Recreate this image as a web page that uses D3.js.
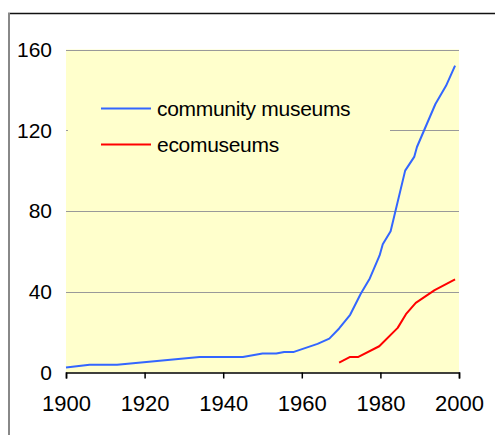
<!DOCTYPE html>
<html>
<head>
<meta charset="utf-8">
<script src="https://cdn.jsdelivr.net/npm/d3@7.9.0/dist/d3.min.js"></script>
<style>
  body { margin: 0; background: #fff; }
  svg text { font-family: "Liberation Sans", Arial, sans-serif; fill: #000; }
</style>
</head>
<body>
<svg id="chart" width="495" height="435"></svg>
<script>
// data: [year, count]
const communityMuseums = [
  [1900, 2.5], [1906, 3.8], [1913, 3.8], [1934, 7.7], [1945, 7.7],
  [1950, 9.4], [1953.5, 9.4], [1955.5, 10.2], [1958, 10.2], [1964, 14.2],
  [1967, 16.8], [1969.5, 21.8], [1972.3, 28.6], [1975, 39], [1977.3, 46.6],
  [1979.8, 58], [1980.6, 63.5], [1982.6, 70], [1986.3, 100], [1988.6, 106.8],
  [1989.3, 111.7], [1994, 133], [1996.7, 142], [1999, 152]
];
const ecomuseums = [
  [1969.5, 4.9], [1972.3, 7.7], [1974.4, 7.7], [1979.7, 13], [1984.4, 22.1],
  [1986.5, 28.9], [1989, 34.5], [1993.8, 40.8], [1999, 46.1]
];
const xTicks = [1900, 1920, 1940, 1960, 1980, 2000];
const yTicks = [0, 40, 80, 120, 160];
const seriesNames = ["community museums", "ecomuseums"];
const seriesColors = ["#3366ff", "#ff0000"];

const svg = d3.select("#chart");

// outer frame
svg.append("line").attr("x1", 8).attr("x2", 495).attr("y1", 13.5).attr("y2", 13.5)
  .attr("stroke", "#111").attr("stroke-width", 1.5);
svg.append("line").attr("x1", 9).attr("x2", 9).attr("y1", 13).attr("y2", 435)
  .attr("stroke", "#888").attr("stroke-width", 2);

const margin = { left: 66, right: 459, top: 49.5, bottom: 372.5 };

const x = d3.scaleLinear().domain([1900, 2000]).range([margin.left, margin.right]);
const y = d3.scaleLinear().domain([0, 160]).range([margin.bottom, margin.top]);

// plot area
svg.append("rect")
  .attr("x", margin.left).attr("y", margin.top)
  .attr("width", margin.right - margin.left).attr("height", margin.bottom - margin.top)
  .attr("fill", "#ffffcc");

// gridlines
svg.append("g").selectAll("line")
  .data(yTicks.filter(d => d > 0))
  .join("line")
  .attr("x1", margin.left).attr("x2", margin.right)
  .attr("y1", d => Math.round(y(d)) + 0.5).attr("y2", d => Math.round(y(d)) + 0.5)
  .attr("stroke", "#999").attr("stroke-width", 1);

// y labels
svg.append("g").selectAll("text")
  .data(yTicks)
  .join("text")
  .attr("x", 52).attr("y", d => y(d))
  .attr("dy", "0.35em")
  .attr("text-anchor", "end")
  .attr("font-size", 21)
  .text(d => d);

// x axis
const xAxis = svg.append("g")
  .attr("transform", `translate(0,${margin.bottom})`)
  .call(d3.axisBottom(x).tickValues(xTicks).tickFormat(d3.format("d")).tickSize(6).tickPadding(17));
xAxis.select(".domain").attr("stroke", "#000").attr("stroke-width", 1.5);
xAxis.selectAll(".tick line").attr("stroke", "#000").attr("stroke-width", 1.5);
xAxis.selectAll(".tick text").attr("font-size", 22).attr("font-family", "Liberation Sans, Arial, sans-serif");

// legend box (hides gridline behind it)
svg.append("rect")
  .attr("x", 68).attr("y", 85).attr("width", 322).attr("height", 80)
  .attr("fill", "#ffffcc");

const line = d3.line().x(d => x(d[0])).y(d => y(d[1]));

[communityMuseums, ecomuseums].forEach((data, i) => {
  svg.append("path")
    .datum(data)
    .attr("d", line)
    .attr("fill", "none")
    .attr("stroke", seriesColors[i])
    .attr("stroke-width", 2)
    .attr("stroke-linejoin", "round");
});

// legend
const legend = svg.append("g").selectAll("g")
  .data(seriesNames)
  .join("g")
  .attr("transform", (d, i) => `translate(101,${108.5 + i * 36})`);
legend.append("line")
  .attr("x1", 0).attr("x2", 50)
  .attr("stroke", (d, i) => seriesColors[i]).attr("stroke-width", 2);
legend.append("text")
  .attr("x", 56).attr("dy", "0.35em")
  .attr("font-size", 21)
  .attr("letter-spacing", -0.3)
  .text(d => d);
</script>
</body>
</html>
